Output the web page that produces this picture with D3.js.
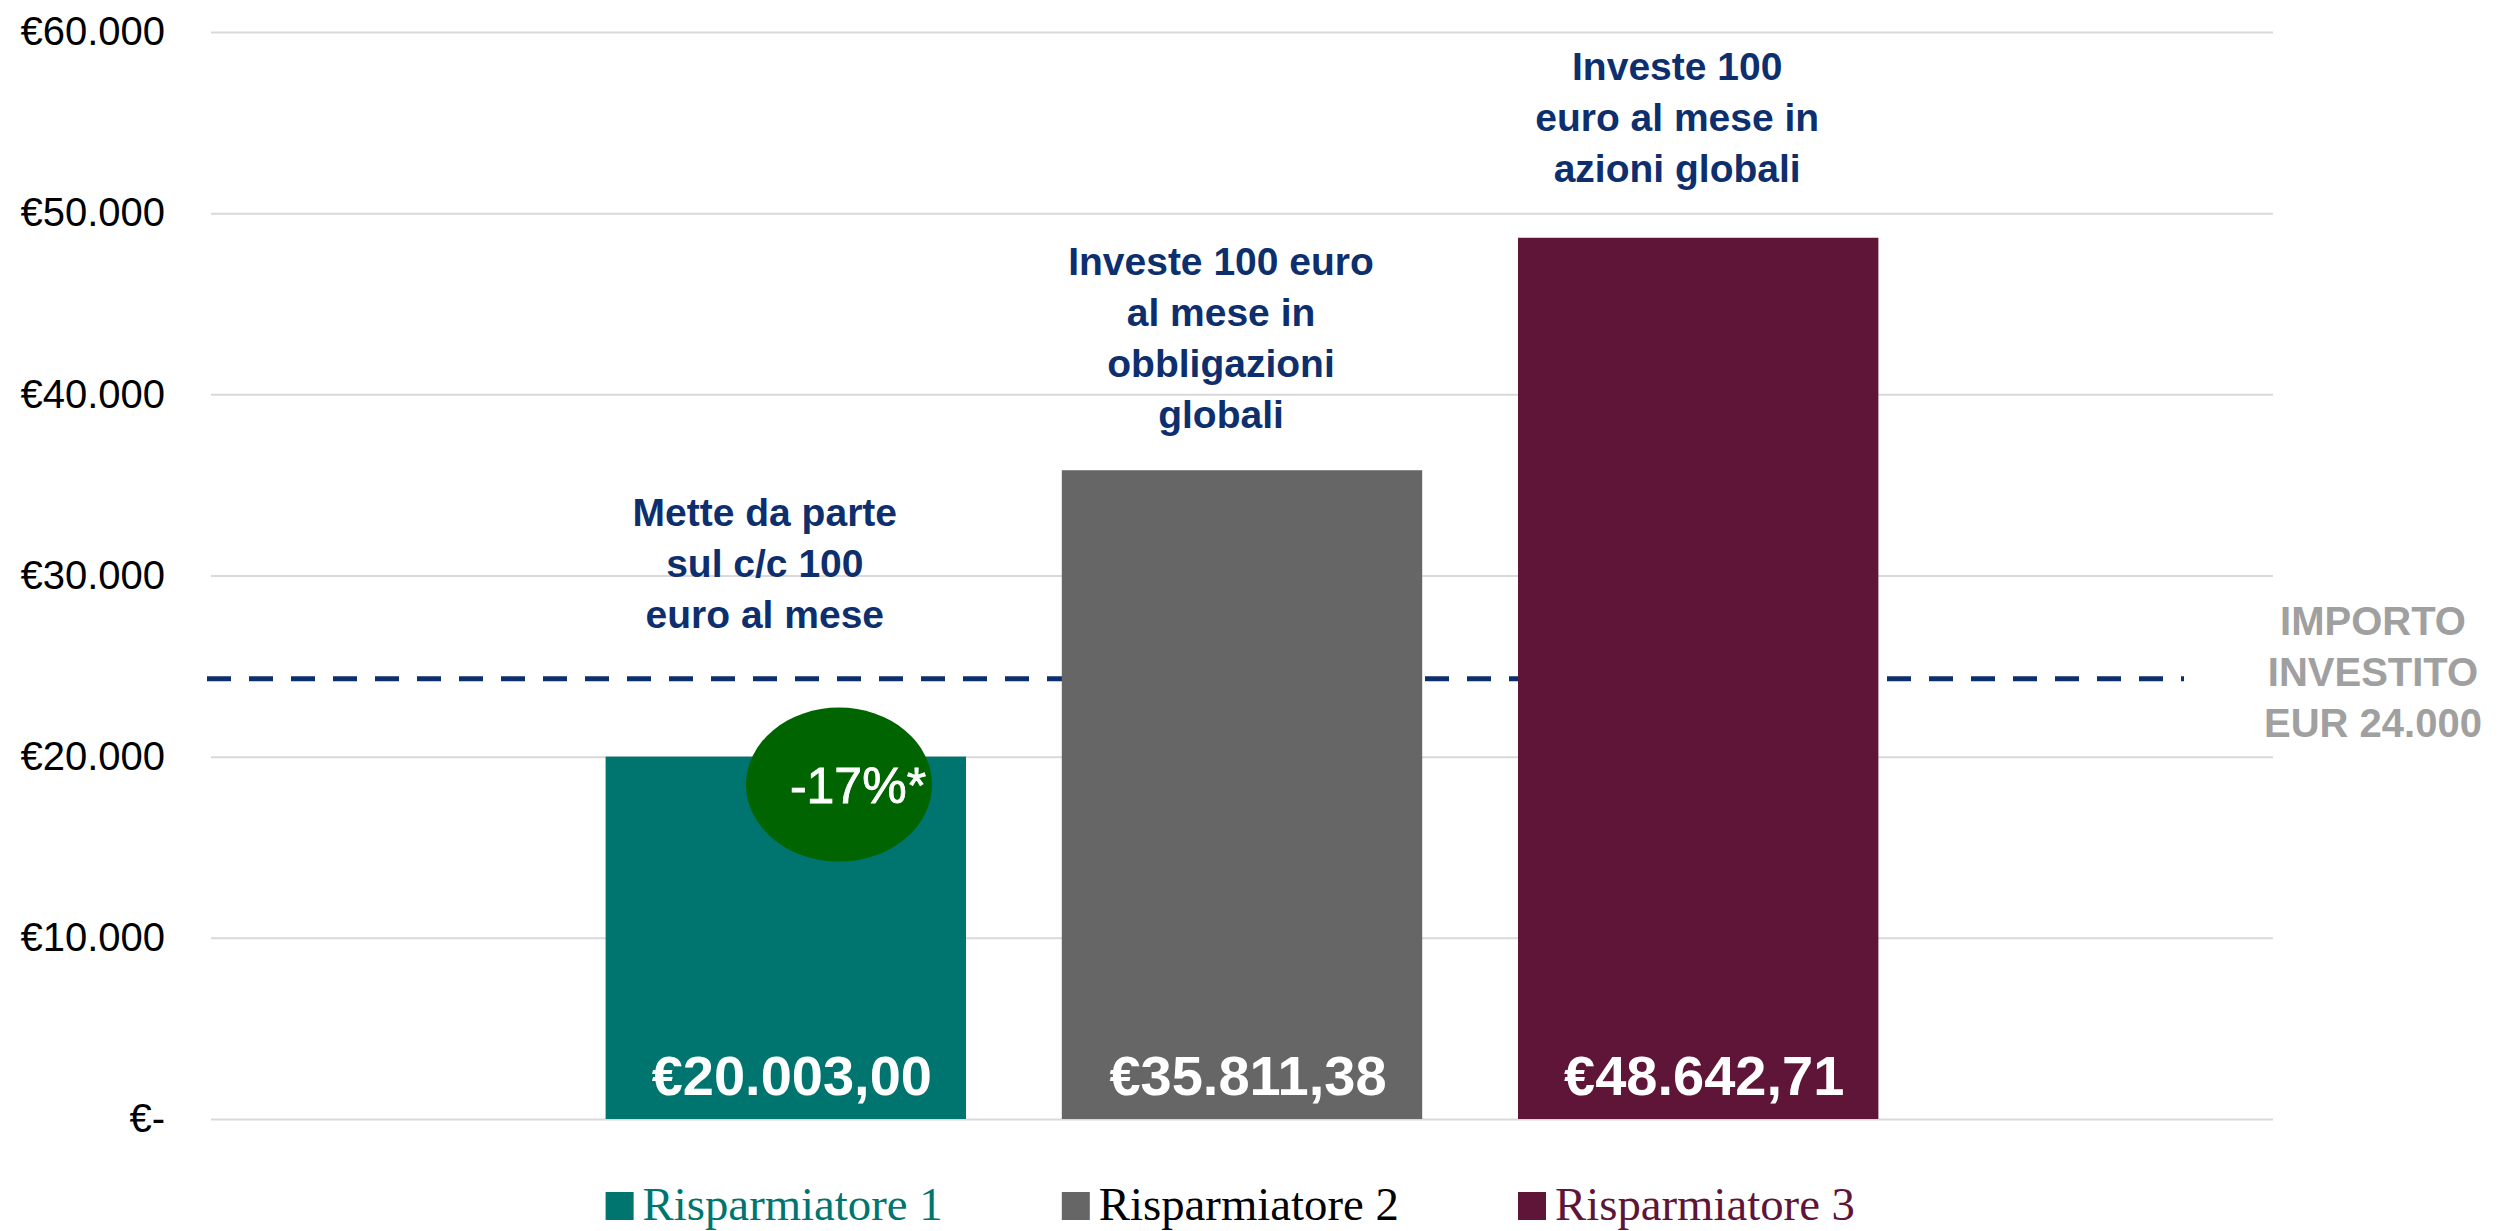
<!DOCTYPE html>
<html>
<head>
<meta charset="utf-8">
<script src="https://cdn.jsdelivr.net/npm/d3@7"></script>
<style>
  body { margin: 0; background: #fff; }
  svg { display: block; }
  .yAxis text { font-family: "Liberation Sans", Arial, sans-serif; font-size: 40px; fill: #000; }
  .yAxis line { stroke: #d9d9d9; stroke-width: 2; }
  .note { font-family: "Liberation Sans", Arial, sans-serif; font-weight: bold; font-size: 39px; fill: #0e2f6e; }
  .valueLabel { font-family: "Liberation Sans", Arial, sans-serif; font-weight: bold; font-size: 56px; fill: #fff; }
  .legend text { font-family: "Liberation Serif", "Times New Roman", serif; font-size: 47px; }
</style>
</head>
<body>
<svg class="chart" width="2500" height="1231"></svg>
<script>
// Chart data
var savers = ["Risparmiatore 1", "Risparmiatore 2", "Risparmiatore 3"];
var finalValues = [20003.00, 35811.38, 48642.71];
var valueLabels = ["€20.003,00", "€35.811,38", "€48.642,71"];
var barColors = ["#007570", "#666666", "#5e1538"];
var legendColors = ["#007570", "#000000", "#5e1538"];
var notes = [
    ["Mette da parte", "sul c/c 100", "euro al mese"],
    ["Investe 100 euro", "al mese in", "obbligazioni", "globali"],
    ["Investe 100", "euro al mese in", "azioni globali"]
];
var yTicks = [0, 10000, 20000, 30000, 40000, 50000, 60000];
var investedLine = 24300; // dashed line
var investedLabel = ["IMPORTO", "INVESTITO", "EUR 24.000"];
var lossLabel = "-17%*";

const plotLeft = 211;
const plotRight = 2273;
const plotTop = 32;
const plotBottom = 1119;
const lineHeight = 51;
var noteGap = [129, 42, 56]; // px between last note line and bar top

var chart = d3.select(".chart").append("g");

var itLocale = d3.formatLocale({ decimal: ",", thousands: ".", grouping: [3], currency: ["€", ""] });
var fmt = itLocale.format(",");

var xScale = d3.scaleBand()
    .domain(savers)
    .range([plotLeft, plotRight])
    .paddingInner(0.21)
    .paddingOuter(0.865);

var yScale = d3.scaleLinear()
    .domain([0, 60000])
    .range([plotBottom, plotTop]);

/**** Y axis with gridlines ****/
var yAxis = d3.axisLeft(yScale)
    .tickValues(yTicks)
    .tickSize(-(plotRight - plotLeft))
    .tickPadding(46)
    .tickFormat(function(d) { return d === 0 ? "€-" : "€" + fmt(d); });

chart.append("g")
    .attr("class", "yAxis")
    .attr("transform", "translate(" + plotLeft + ",0)")
    .call(yAxis)
    .call(function(g) { g.select(".domain").remove(); });

/**** Invested amount line (behind bars) ****/
chart.append("line")
    .attr("x1", 207)
    .attr("x2", 2184)
    .attr("y1", yScale(investedLine))
    .attr("y2", yScale(investedLine))
    .attr("stroke", "#0e2f6e")
    .attr("stroke-width", 5)
    .attr("stroke-dasharray", "24,18");

chart.selectAll(".investLabel")
    .data(investedLabel)
    .enter()
    .append("text")
    .attr("class", "investLabel")
    .attr("x", 2373)
    .attr("y", function(d, i) { return yScale(investedLine) - 44 + i * 51; })
    .attr("text-anchor", "middle")
    .style("font-family", "Liberation Sans, Arial, sans-serif")
    .style("font-weight", "bold")
    .style("font-size", "40px")
    .style("fill", "#a0a0a0")
    .text(function(d) { return d; });

/**** Bars ****/
chart.selectAll(".bar")
    .data(finalValues)
    .enter()
    .append("rect")
    .attr("class", "bar")
    .attr("x", function(d, i) { return xScale(savers[i]); })
    .attr("y", function(d) { return yScale(d); })
    .attr("width", xScale.bandwidth())
    .attr("height", function(d) { return yScale(0) - yScale(d); })
    .style("fill", function(d, i) { return barColors[i]; });

// value labels inside the bars
chart.selectAll(".valueLabel")
    .data(valueLabels)
    .enter()
    .append("text")
    .attr("class", "valueLabel")
    .attr("x", function(d, i) { return xScale(savers[i]) + xScale.bandwidth() / 2 + 6; })
    .attr("y", yScale(0) - 24)
    .attr("text-anchor", "middle")
    .text(function(d) { return d; });

/**** Notes above bars ****/
notes.forEach(function(lines, i) {
    var cx = xScale(savers[i]) + xScale.bandwidth() / 2 - 21;
    var lastBase = yScale(finalValues[i]) - noteGap[i];
    var t = chart.append("text")
        .attr("class", "note")
        .attr("text-anchor", "middle");
    lines.forEach(function(line, j) {
        t.append("tspan")
            .attr("x", cx)
            .attr("y", lastBase - (lines.length - 1 - j) * lineHeight)
            .text(line);
    });
});

/**** Loss bubble on saver 1 ****/
var b1 = xScale(savers[0]) + xScale.bandwidth();
chart.append("ellipse")
    .attr("cx", b1 - 127)
    .attr("cy", yScale(finalValues[0]) + 28)
    .attr("rx", 93)
    .attr("ry", 77)
    .style("fill", "#006400");

chart.append("text")
    .attr("x", b1 - 108)
    .attr("y", yScale(finalValues[0]) + 46)
    .attr("text-anchor", "middle")
    .style("font-family", "Liberation Sans, Arial, sans-serif")
    .style("font-size", "50px")
    .style("fill", "#fff")
    .style("stroke", "#fff")
    .style("stroke-width", 0.8)
    .text(lossLabel);

/**** Legend ****/
var legend = chart.selectAll(".legend")
    .data(savers)
    .enter()
    .append("g")
    .attr("class", "legend")
    .attr("transform", function(d) { return "translate(" + xScale(d) + ",1192)"; });

legend.append("rect")
    .attr("width", 28)
    .attr("height", 28)
    .style("fill", function(d, i) { return barColors[i]; });

legend.append("text")
    .attr("x", 37)
    .attr("y", 28)
    .style("fill", function(d, i) { return legendColors[i]; })
    .attr("textLength", 300)
    .attr("lengthAdjust", "spacingAndGlyphs")
    .text(function(d) { return d; });
</script>
</body>
</html>
